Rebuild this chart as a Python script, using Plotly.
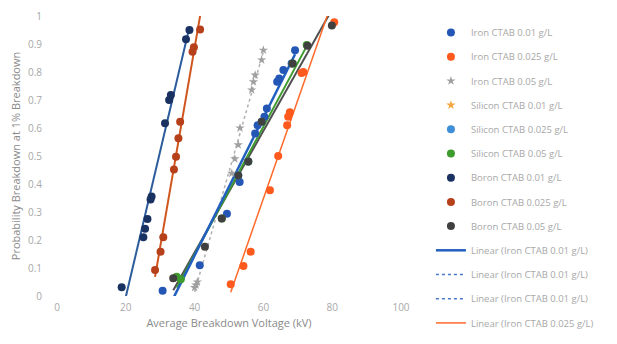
import numpy as np
import plotly.graph_objects as go

# ---- data ----
iron_001_x = [30.7, 41.5, 49.4, 53.1, 57.6, 58.3, 60.3, 61.0, 64.0, 64.6, 65.8, 68.2, 69.2]
iron_001_y = [0.019, 0.11, 0.294, 0.407, 0.58, 0.61, 0.64, 0.67, 0.765, 0.777, 0.807, 0.83, 0.878]

iron_0025_x = [50.5, 54.2, 56.3, 61.9, 64.3, 66.9, 67.2, 67.7, 71.1, 71.6, 80.6]
iron_0025_y = [0.042, 0.107, 0.158, 0.378, 0.5, 0.61, 0.64, 0.656, 0.796, 0.80, 0.978]

iron_005_x = [40.0, 40.4, 40.8, 50.8, 51.7, 52.7, 53.2, 56.6, 57.1, 57.6, 59.5, 60.0]
iron_005_y = [0.03, 0.039, 0.05, 0.438, 0.49, 0.54, 0.60, 0.736, 0.765, 0.789, 0.843, 0.878]

si_001_x = [33.8, 43.0, 47.9]
si_001_y = [0.063, 0.176, 0.277]

si_0025_x = [52.7, 55.6, 59.5]
si_0025_y = [0.43, 0.48, 0.622]

si_005_x = [34.8, 36.0, 47.9, 55.6, 68.5, 72.6]
si_005_y = [0.069, 0.06, 0.277, 0.48, 0.83, 0.896]

b_001_x = [18.8, 25.1, 25.6, 26.3, 27.2, 27.5, 31.4, 32.6, 33.1, 37.5, 38.5]
b_001_y = [0.031, 0.21, 0.24, 0.275, 0.345, 0.355, 0.617, 0.70, 0.718, 0.917, 0.95]

b_0025_x = [28.5, 30.1, 30.9, 34.0, 34.6, 35.3, 35.8, 39.4, 39.8, 41.6]
b_0025_y = [0.093, 0.158, 0.21, 0.452, 0.497, 0.563, 0.622, 0.872, 0.888, 0.952]

b_005_x = [33.8, 43.0, 47.9, 52.7, 55.6, 59.5, 68.5, 72.8, 79.9]
b_005_y = [0.063, 0.176, 0.277, 0.43, 0.48, 0.622, 0.83, 0.894, 0.966]

x_ticks = [0, 20, 40, 60, 80, 100]
y_ticks = [0, 0.1, 0.2, 0.3, 0.4, 0.5, 0.6, 0.7, 0.8, 0.9, 1]
y_tick_text = ["0", "0.1", "0.2", "0.3", "0.4", "0.5", "0.6", "0.7", "0.8", "0.9", "1"]

series = [
    ("Iron CTAB 0.01 g/L", iron_001_x, iron_001_y, "#2457B5", "circle"),
    ("Iron CTAB 0.025 g/L", iron_0025_x, iron_0025_y, "#FF5A1E", "circle"),
    ("Iron CTAB 0.05 g/L", iron_005_x, iron_005_y, "#A0A0A0", "star"),
    ("Silicon CTAB 0.01 g/L", si_001_x, si_001_y, "#F5A742", "star"),
    ("Silicon CTAB 0.025 g/L", si_0025_x, si_0025_y, "#3F8FD8", "circle"),
    ("Silicon CTAB 0.05 g/L", si_005_x, si_005_y, "#3E9B2D", "circle"),
    ("Boron CTAB 0.01 g/L", b_001_x, b_001_y, "#1A3262", "circle"),
    ("Boron CTAB 0.025 g/L", b_0025_x, b_0025_y, "#B5401A", "circle"),
    ("Boron CTAB 0.05 g/L", b_005_x, b_005_y, "#404040", "circle"),
]

# trendlines (series index, colour, dash, width, legend name, legend rank)
trends = [
    (6, "#2C5C9C", "solid", 2, None, None),
    (7, "#D0561F", "solid", 2, None, None),
    (2, "#B0B0B0", "dot", 1.5, None, None),
    (8, "#505050", "solid", 2, None, None),
    (5, "#3E9B2D", "solid", 2, None, None),
    (0, "#2260C0", "solid", 2.5, "Linear (Iron CTAB 0.01 g/L)", 10),
    (1, "#FF6A2A", "solid", 1.5, "Linear (Iron CTAB 0.025 g/L)", 13),
]

fig = go.Figure()

for idx, color, dash, width, name, rank in trends:
    sname, xs, ys, _, _ = series[idx]
    m, c = np.polyfit(xs, ys, 1)
    xl = np.array([min(xs), max(xs)])
    if name:
        kw = dict(legendrank=rank, legendgroup="fit_" + sname, showlegend=True, name=name)
    else:
        kw = dict(legendgroup=sname, showlegend=False, name="Linear (" + sname + ")")
    fig.add_trace(go.Scatter(x=xl, y=m * xl + c, mode="lines",
                             line=dict(color=color, dash=dash, width=width),
                             hoverinfo="skip", **kw))

# legend-only dotted entries shown in the reference legend
for k, rank in enumerate([11, 12]):
    fig.add_trace(go.Scatter(x=[None], y=[None], mode="lines",
                             name="Linear (Iron CTAB 0.01 g/L)",
                             legendgroup="dot%d" % k, legendrank=rank,
                             line=dict(color="#4A78C8", dash="dot", width=1.5)))

for i, (name, xs, ys, color, sym) in enumerate(series):
    fig.add_trace(go.Scatter(x=xs, y=ys, mode="markers", name=name,
                             legendgroup=name, legendrank=i + 1,
                             marker=dict(color=color, size=8 if sym == "circle" else 7,
                                         symbol=sym, line=dict(width=0)),
                             cliponaxis=False))

grey = "#A8A8A8"
fig.update_layout(
    width=609, height=336,
    margin=dict(l=49, r=216, t=8, b=48, autoexpand=False),
    paper_bgcolor="white", plot_bgcolor="white",
    font=dict(family="Open Sans, Liberation Sans, sans-serif", size=10, color=grey),
    legend=dict(x=1.087, y=1 - 10 / 336, xanchor="left", yanchor="top",
                yref="container", maxheight=1.0,
                font=dict(size=9.5, color=grey), tracegroupgap=5.2,
                itemwidth=30, bgcolor="rgba(0,0,0,0)"),
    xaxis=dict(range=[0, 100], tickvals=x_ticks, showgrid=False, zeroline=False,
               showline=False, ticks="outside", ticklen=2, tickcolor="rgba(0,0,0,0)",
               tickfont=dict(size=10, color=grey), automargin=False,
               title=dict(text="Average Breakdown Voltage (kV)",
                          font=dict(size=11, color="#8A8A8A"), standoff=6)),
    yaxis=dict(range=[0, 1], tickvals=y_ticks, ticktext=y_tick_text, showgrid=False,
               zeroline=False, showline=False, ticks="outside", ticklen=12,
               tickcolor="rgba(0,0,0,0)", tickfont=dict(size=10, color=grey),
               automargin=False,
               title=dict(text="Probability Breakdown at 1% Breakdown",
                          font=dict(size=11, color="#8A8A8A"), standoff=8)),
)

fig.write_html("out.html")
